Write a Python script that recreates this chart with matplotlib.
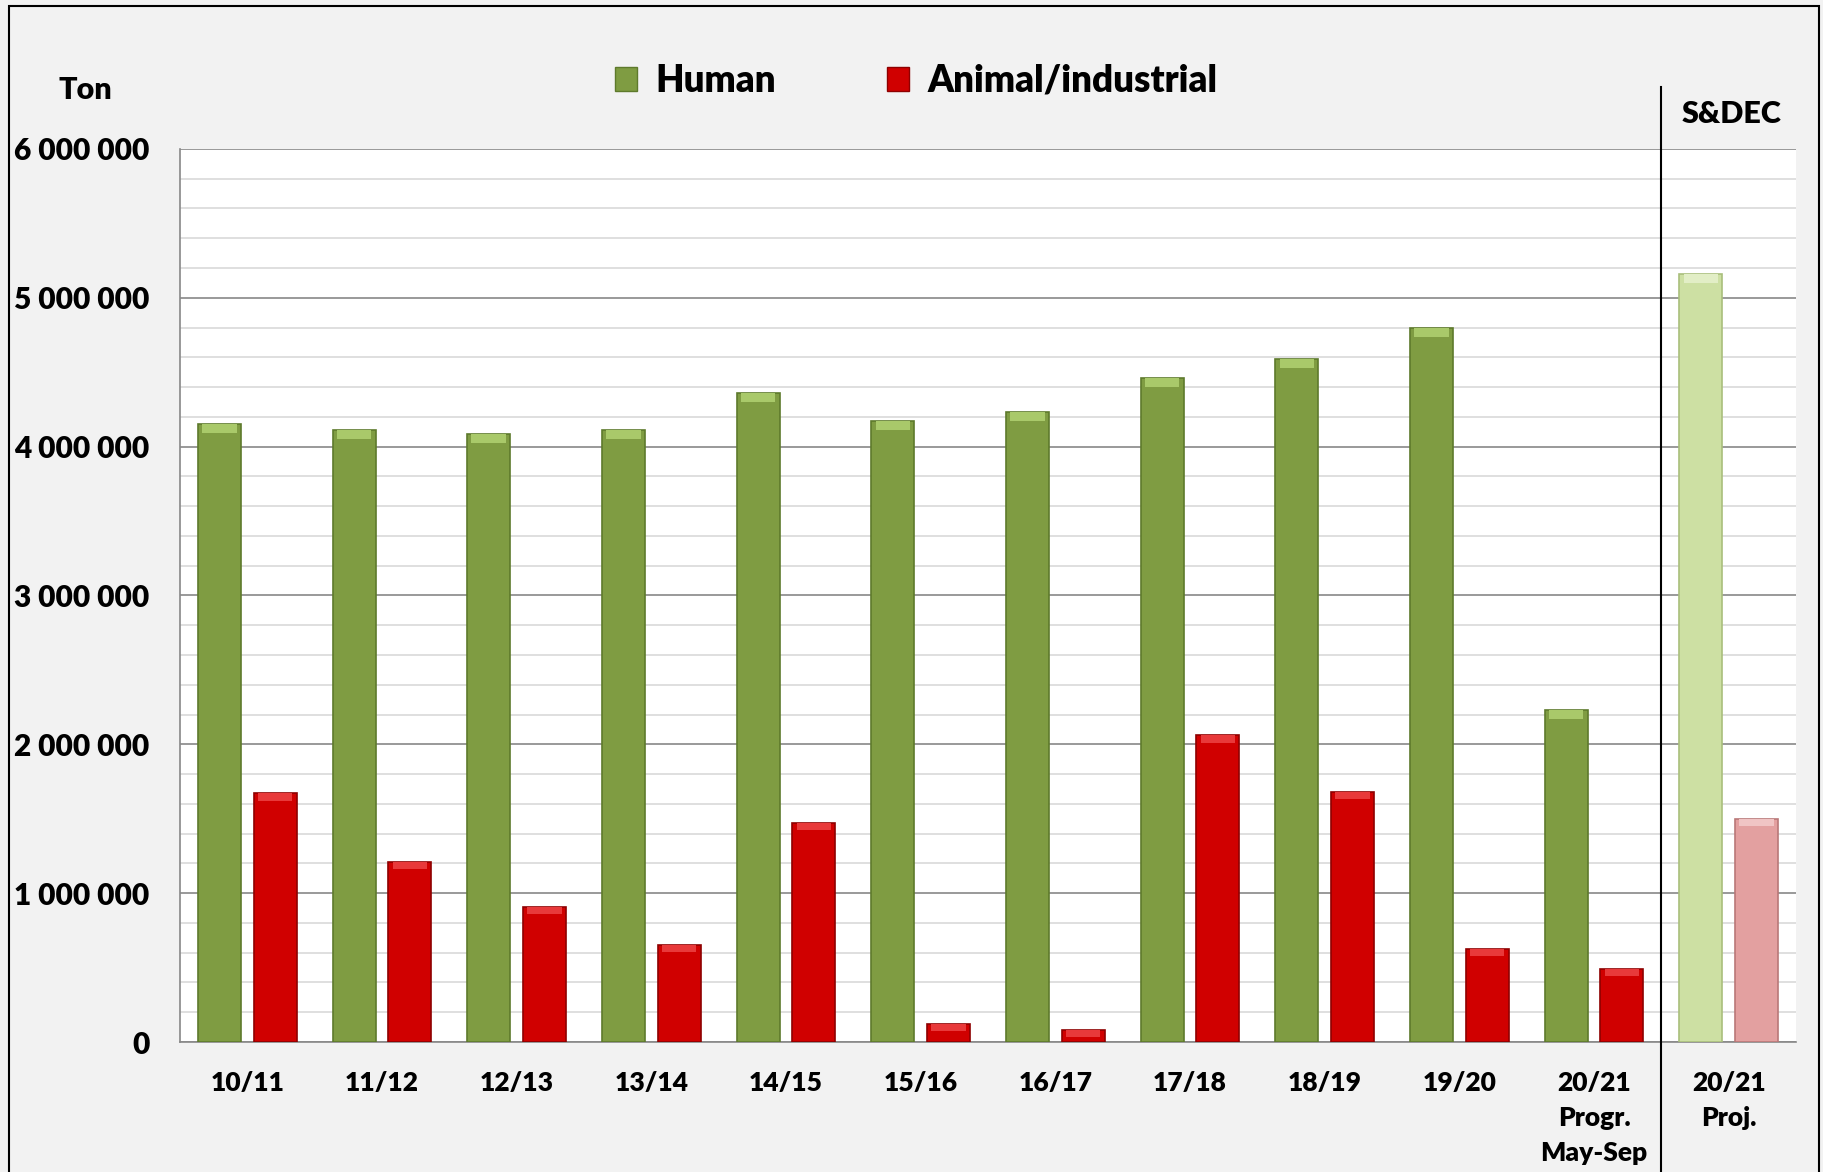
import matplotlib
matplotlib.use('agg')
import matplotlib.pyplot as plt
from matplotlib.patches import Rectangle
from matplotlib.lines import Line2D
from matplotlib.ticker import FuncFormatter, MultipleLocator
import numpy as np

plt.rcParams['font.family'] = ['Lato', 'DejaVu Sans']
plt.rcParams['font.weight'] = 'heavy'

categories = ['10/11', '11/12', '12/13', '13/14', '14/15', '15/16', '16/17',
              '17/18', '18/19', '19/20', '20/21\nProgr.\nMay-Sep', '20/21\nProj.']
human = [4150000, 4110000, 4085000, 4110000, 4360000, 4170000, 4230000,
         4460000, 4590000, 4800000, 2230000, 5160000]
animal = [1670000, 1210000, 910000, 650000, 1470000, 120000, 80000,
          2060000, 1680000, 625000, 490000, 1500000]

green, green_dark, green_top = '#7F9C42', '#5E7A2C', '#A9C96A'
red, red_dark, red_top = '#D00000', '#8E0000', '#E8393A'
lgreen, lgreen_dark, lgreen_top = '#CDE0A3', '#A9BF7C', '#E2EEC6'
lred, lred_dark, lred_top = '#E3A0A0', '#B97878', '#F0C4C4'

fig = plt.figure(figsize=(18.23, 11.72), dpi=100)
fig.patch.set_facecolor('#F2F2F2')
fig.patches.append(Rectangle((0.005, -0.05), 0.993, 1.045, transform=fig.transFigure,
                             fill=False, edgecolor='black', linewidth=1.5))

ax = fig.add_axes([0.0987, 0.1109, 0.8865, 0.762])
ax.set_facecolor('white')

x = np.arange(len(categories))
w = 0.32
off = 0.207
bevel = 60000

for i in x:
    hc, hd, ht = (lgreen, lgreen_dark, lgreen_top) if i == len(x) - 1 else (green, green_dark, green_top)
    rc, rd, rt = (lred, lred_dark, lred_top) if i == len(x) - 1 else (red, red_dark, red_top)
    ax.bar(i - off, human[i], w, color=hc, edgecolor=hd, linewidth=1.2, zorder=3)
    ax.bar(i - off, min(bevel, human[i]), w * 0.8, bottom=human[i] - min(bevel, human[i]),
           color=ht, linewidth=0, zorder=4)
    ax.bar(i + off, animal[i], w, color=rc, edgecolor=rd, linewidth=1.2, zorder=3)
    ax.bar(i + off, min(bevel, animal[i]) * 0.8, w * 0.8, bottom=animal[i] - min(bevel, animal[i]) * 0.8,
           color=rt, linewidth=0, zorder=4)

ax.set_xlim(-0.5, len(x) - 0.5)
ax.set_ylim(0, 6000000)
ax.yaxis.set_major_locator(MultipleLocator(1000000))
ax.yaxis.set_minor_locator(MultipleLocator(200000))
ax.yaxis.set_major_formatter(FuncFormatter(lambda v, p: f'{int(v):,}'.replace(',', ' ')))
ax.grid(True, which='major', axis='y', color='#888888', linewidth=1.2, zorder=0)
ax.grid(True, which='minor', axis='y', color='#D9D9D9', linewidth=1.2, zorder=0)
ax.tick_params(axis='y', which='both', length=0, pad=22, labelsize=21.5)
ax.tick_params(axis='x', length=0, pad=21, labelsize=19)
ax.set_xticks(x)
ax.set_xticklabels(categories, linespacing=1.55)
for s in ['top', 'right']:
    ax.spines[s].set_visible(False)
for s in ['left', 'bottom']:
    ax.spines[s].set_color('#888888')
    ax.spines[s].set_linewidth(1.2)

# divider between progress and projection
ax.add_line(Line2D([10.5, 10.5], [-0.16, 1.069], transform=ax.get_xaxis_transform(),
                   color='black', linewidth=1.5, clip_on=False, zorder=5))

fig.text(0.047, 0.923, 'Ton', fontsize=22, ha='center', va='center')
fig.text(0.950, 0.903, 'S&DEC', fontsize=22, ha='center', va='center')

# legend
handles = [Rectangle((0, 0), 1, 1, facecolor=green, edgecolor=green_dark),
           Rectangle((0, 0), 1, 1, facecolor=red, edgecolor=red_dark)]
fig.legend(handles, ['Human', 'Animal/industrial'], loc='center', bbox_to_anchor=(0.5026, 0.931),
           ncol=2, frameon=False, fontsize=26.5, handlelength=0.6, handleheight=0.6,
           handletextpad=0.5, columnspacing=3.0)

plt.savefig('out.png', dpi=100, facecolor=fig.get_facecolor())
